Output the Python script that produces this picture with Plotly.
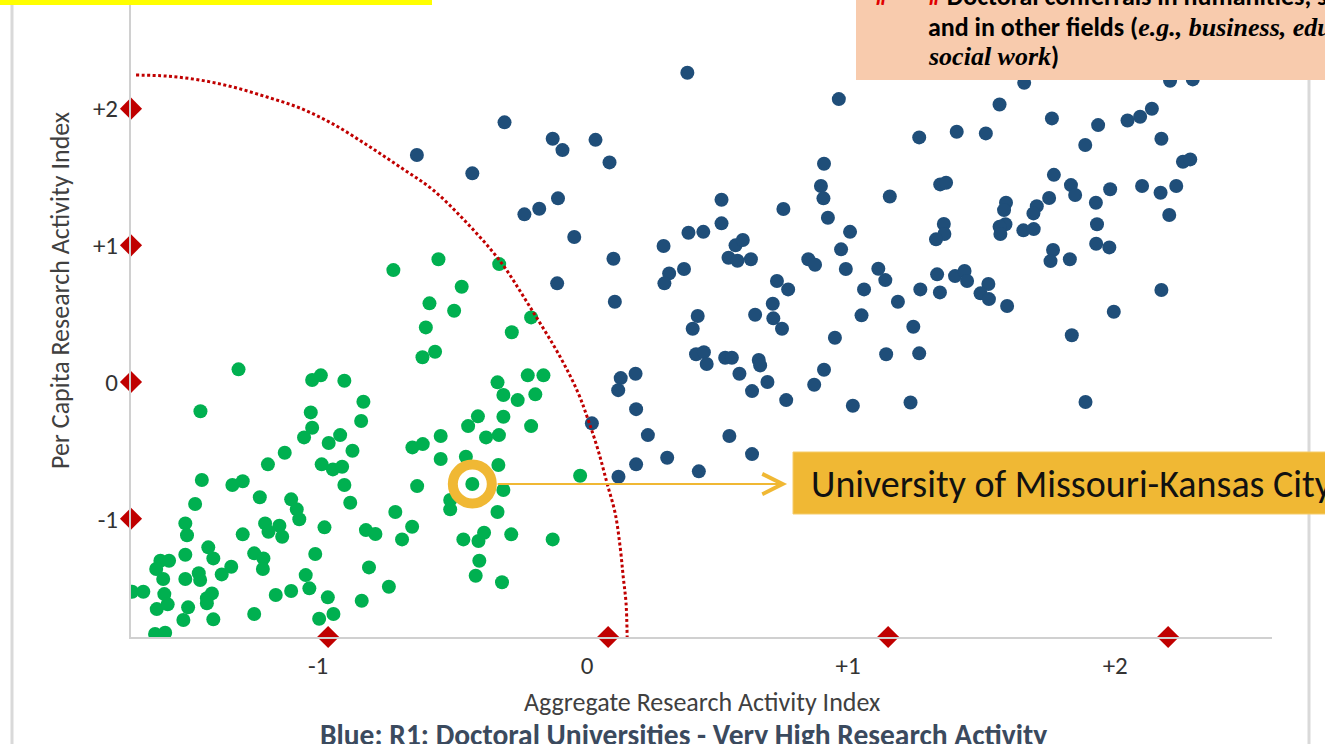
import plotly.graph_objects as go

# ---------------- data ----------------
green_x = [-0.767, -0.606, -0.389, -0.523, -0.638, -0.550, -0.275, -0.651, -0.344, -0.618,
           -0.663, -1.320, -1.057, -1.026, -0.942, -0.395, -0.287, -0.231, -0.374, -0.323,
           -0.260, -0.874, -1.456, -1.062, -0.882, -1.057, -1.086, -0.465, -0.374, -0.275,
           -0.500, -0.598, -0.436, -0.390, -0.957, -0.998, -0.913, -1.155, -0.699, -0.662,
           -0.598, -0.508, -0.392, -1.215, -1.023, -0.983, -0.950, -1.451, -1.342, -1.305,
           -0.942, -0.682, -0.485, -0.374, -0.100, -1.475, -1.244, -1.132, -1.112, -1.103,
           -0.921, -0.564, -0.564, -0.760, -0.395, -1.510, -1.504, -1.225, -1.174, -1.213,
           -1.164, -1.305, -1.013, -0.865, -0.831, -0.700, -0.736, -0.517, -0.463, -0.443,
           -0.346, -0.198, -1.510, -1.428, -1.410, -1.264, -1.231, -1.233, -1.046, -1.599,
           -1.568, -1.614, -1.589, -1.510, -1.462, -1.457, -1.380, -1.346, -1.080, -1.067,
           -0.854, -0.783, -0.460, -0.473, -0.379, -1.700, -1.660, -1.585, -1.612, -1.573,
           -1.500, -1.517, -1.433, -1.415, -1.433, -1.410, -1.187, -1.132, -1.264, -1.001,
           -0.981, -1.032, -0.880, -1.618, -1.582, -1.254]
green_y = [0.819, 0.898, 0.863, 0.697, 0.576, 0.522, 0.473, 0.400, 0.364, 0.222,
           0.181, 0.093, 0.015, 0.049, 0.010, -0.002, 0.049, 0.049, -0.095, -0.132,
           -0.090, -0.144, -0.214, -0.222, -0.285, -0.334, -0.405, -0.251, -0.254, -0.322,
           -0.322, -0.395, -0.405, -0.388, -0.388, -0.446, -0.503, -0.517, -0.478, -0.454,
           -0.563, -0.546, -0.607, -0.602, -0.602, -0.639, -0.620, -0.717, -0.753, -0.726,
           -0.753, -0.761, -0.746, -0.790, -0.685, -0.892, -0.843, -0.858, -0.931, -1.004,
           -0.883, -0.863, -0.931, -0.951, -0.951, -1.034, -1.121, -1.034, -1.051, -1.095,
           -1.132, -1.114, -1.063, -1.083, -1.112, -1.059, -1.151, -1.151, -1.163, -1.102,
           -1.114, -1.151, -1.263, -1.209, -1.290, -1.253, -1.290, -1.368, -1.258, -1.307,
           -1.307, -1.368, -1.441, -1.441, -1.399, -1.448, -1.407, -1.351, -1.412, -1.509,
           -1.356, -1.497, -1.307, -1.417, -1.465, -1.534, -1.534, -1.551, -1.661, -1.626,
           -1.648, -1.741, -1.582, -1.546, -1.619, -1.736, -1.558, -1.529, -1.697, -1.575,
           -1.697, -1.732, -1.600, -1.843, -1.834, -1.878]

blue_x = [0.283, 0.824, -0.370, -0.198, -0.163, -0.045, 0.005, 1.111, 0.771, 0.760,
          0.769, 1.006, -0.179, -0.246, -0.299, -0.121, 0.405, 0.405, 0.626, 0.287,
          0.340, 0.198, 0.455, 0.481, 0.785, 0.864, 0.832, 0.430, 0.462, 0.510,
          0.019, 0.715, 0.739, 0.849, 0.965, 0.990, 0.271, 0.218, 0.201, -0.182,
          0.914, 1.115, 0.603, 0.643, 0.024, 0.588, 1.035, 0.320, 0.302, 0.525,
          0.590, 0.621, 0.905, 1.090, 0.810, 0.314, 0.342, 0.352, 0.418, 0.442,
          0.538, 0.543, 0.469, 0.569, 0.514, 0.636, 0.993, 1.111, 0.771, 0.736,
          0.874, 1.080, 0.045, 0.098, 0.036, 0.100, -0.058, 0.142, 0.433, 0.211,
          0.514, 0.100, 0.324, 0.037, -0.683, -0.485,
          1.486, 2.007, 2.088, 1.398, 1.585, 1.245, 1.349, 1.750, 1.855, 1.900,
          1.942, 1.704, 1.976, 2.053, 2.079, 1.186, 1.207, 1.592, 1.653, 1.668,
          1.575, 1.742, 1.793, 1.907, 1.973, 2.029, 2.004, 1.421, 1.414, 1.531,
          1.519, 1.199, 1.201, 1.171, 1.419, 1.398, 1.401, 1.483, 1.520, 1.746,
          1.743, 1.790, 1.589, 1.580, 1.649, 1.175, 1.239, 1.273, 1.282, 1.358,
          1.330, 1.360, 1.185, 1.425, 1.656, 1.806, 1.976, 1.705]
blue_y = [2.263, 2.070, 1.900, 1.780, 1.697, 1.772, 1.607, 1.790, 1.597, 1.434,
          1.344, 1.358, 1.344, 1.268, 1.227, 1.061, 1.334, 1.161, 1.266, 1.092,
          1.099, 0.995, 1.000, 1.039, 1.202, 1.099, 0.971, 0.909, 0.887, 0.898,
          0.902, 0.898, 0.858, 0.827, 0.829, 0.746, 0.827, 0.795, 0.722, 0.722,
          0.678, 0.678, 0.739, 0.678, 0.587, 0.573, 0.587, 0.483, 0.390, 0.492,
          0.466, 0.390, 0.488, 0.405, 0.324, 0.203, 0.219, 0.132, 0.178, 0.178,
          0.161, 0.122, 0.061, 0.000, -0.066, -0.132, 0.203, 0.210, 0.090, -0.020,
          -0.173, -0.149, 0.029, 0.061, -0.059, -0.198, -0.302, -0.388, -0.395, -0.554,
          -0.527, -0.602, -0.653, -0.693, 1.661, 1.527,
          2.189, 2.204, 2.214, 2.031, 1.929, 1.831, 1.819, 1.880, 1.914, 1.941,
          1.999, 1.734, 1.780, 1.612, 1.629, 1.446, 1.458, 1.516, 1.441, 1.368,
          1.346, 1.312, 1.410, 1.434, 1.385, 1.434, 1.222, 1.312, 1.258, 1.287,
          1.234, 1.156, 1.083, 1.044, 1.154, 1.136, 1.083, 1.110, 1.119, 1.154,
          1.012, 0.985, 0.966, 0.885, 0.898, 0.788, 0.775, 0.812, 0.739, 0.717,
          0.649, 0.607, 0.656, 0.556, 0.342, 0.514, 0.673, -0.146]

boundary_x = [-1.686, -1.575, -1.457, -1.339, -1.218, -1.100, -0.982, -0.861, -0.743, -0.625,
              -0.504, -0.386, -0.279, -0.171, -0.107, -0.071, -0.036, -0.004, 0.025, 0.043,
              0.054, 0.064, 0.068]
boundary_y = [2.246, 2.238, 2.209, 2.158, 2.085, 2.004, 1.887, 1.734, 1.573, 1.405,
              1.163, 0.885, 0.549, 0.183, -0.080, -0.278, -0.497, -0.739, -0.958, -1.207,
              -1.426, -1.617, -1.873]

umkc_x, umkc_y = -0.485, -0.746
umkc_label = "University of Missouri-Kansas City"
axis_marks = [-1, 0, 1, 2]
x_tick_vals = [-1.036, -0.075, 0.857, 1.811]
x_tick_text = ["-1", "0", "+1", "+2"]
y_tick_vals = [-1, 0, 1, 2]
y_tick_text = ["-1", "0", "+1", "+2"]
x_range = [-1.704, 2.371]
y_range = [-1.865, 2.795]

# ---------------- style ----------------
FONT = "Carlito, Calibri, Lato, sans-serif"
SERIF = "'Liberation Serif', 'DejaVu Serif', serif"
GREEN = "#00b050"
BLUE = "#1f4e79"
RED = "#c00000"
GOLD = "#f0b834"
AXIS_GRAY = "#d0d0d0"

fig = go.Figure()
fig.add_trace(go.Scatter(x=green_x, y=green_y, mode="markers",
                         marker=dict(size=14, color=GREEN), hoverinfo="skip"))
fig.add_trace(go.Scatter(x=blue_x, y=blue_y, mode="markers",
                         marker=dict(size=14, color=BLUE), hoverinfo="skip"))
fig.add_trace(go.Scatter(x=boundary_x, y=boundary_y, mode="lines",
                         line=dict(color=RED, width=3, dash="3px,2.5px", shape="spline"),
                         hoverinfo="skip"))
fig.add_trace(go.Scatter(x=[x_range[0]] * len(axis_marks) + axis_marks,
                         y=axis_marks + [y_range[0]] * len(axis_marks),
                         mode="markers", cliponaxis=False,
                         marker=dict(symbol="diamond", size=17, color=RED), hoverinfo="skip"))
fig.add_trace(go.Scatter(x=[umkc_x], y=[umkc_y], mode="markers",
                         marker=dict(symbol="circle-open", size=39, color=GOLD,
                                     line=dict(color=GOLD, width=10)),
                         hoverinfo="skip"))


def px_x(p):
    return (p - 131) / 1141.0


def px_y(p):
    return (637 - p) / 637.0


shapes = [
    # slide borders
    dict(type="line", xref="paper", yref="paper", x0=px_x(12), x1=px_x(12), y0=-0.2, y1=1.05,
         line=dict(color="#d9d9d9", width=3), layer="below"),
    dict(type="line", xref="paper", yref="paper", x0=px_x(1309), x1=px_x(1309), y0=-0.2, y1=1.05,
         line=dict(color="#d9d9d9", width=3), layer="below"),
    # yellow box at top left
    dict(type="rect", xref="paper", yref="paper", x0=-0.2, x1=px_x(432), y0=px_y(5), y1=1.05,
         fillcolor="#ffff00", line=dict(width=0)),
    # peach box at top right
    dict(type="rect", xref="paper", yref="paper", x0=px_x(856), x1=1.1, y0=px_y(80), y1=1.05,
         fillcolor="#f8cbad", line=dict(width=0)),
    # callout box
    dict(type="rect", xref="paper", yref="paper", x0=px_x(793), x1=1.1, y0=px_y(514), y1=px_y(452),
         fillcolor=GOLD, line=dict(color="#f5cc6a", width=1)),
]


def note(text, x, y, size, color, xanchor="center", **kw):
    d = dict(text=text, xref="paper", yref="paper", x=px_x(x), y=px_y(y),
             xanchor=xanchor, yanchor="middle", showarrow=False,
             font=dict(family=FONT, size=size, color=color))
    d.update(kw)
    return d


annotations = [
    note("Per Capita Research Activity Index", 60, 291, 26, "#404040", textangle=-90),
    note("Aggregate Research Activity Index", 702, 702, 26, "#404040"),
    note("<b>Blue: R1: Doctoral Universities - Very High Research Activity</b>", 683, 735, 29.5, "#3b4a5e"),
    note(umkc_label, 809, 484, 38, "#111111", xanchor="left"),
    # peach box text
    note("<b>#</b>", 873, -4, 26, "#e00000", xanchor="left"),
    note("<b><span style='color:#e00000'>#</span> Doctoral conferrals in humanities, social sciences,</b>",
         926, -4, 26, "#000000", xanchor="left"),
    note("<b>and in other fields (</b><span style=\"font-family:" + SERIF + ";font-size:26px\">"
         "<b><i>e.g., business, education,</i></b></span>", 926, 27, 26, "#000000", xanchor="left"),
    note("<span style=\"font-family:" + SERIF + ";font-size:26px\"><b><i>social work</i></b></span><b>)</b>",
         926, 56, 26, "#000000", xanchor="left"),
    # arrow from ring to the label
    dict(x=0.639, y=umkc_y, ax=umkc_x + 0.085, ay=umkc_y, xref="x", yref="y", axref="x", ayref="y",
         text="", showarrow=True, arrowhead=5, arrowsize=2, arrowwidth=2, arrowcolor=GOLD),
]

fig.update_layout(
    width=1325, height=744,
    margin=dict(l=131, r=53, t=0, b=107),
    paper_bgcolor="white", plot_bgcolor="white",
    showlegend=False,
    shapes=shapes, annotations=annotations,
    xaxis=dict(range=x_range, showgrid=False, zeroline=False, showline=True,
               linecolor=AXIS_GRAY, linewidth=2, tickvals=x_tick_vals, ticktext=x_tick_text,
               ticks="outside", ticklen=5, tickcolor="rgba(0,0,0,0)",
               tickfont=dict(family=FONT, size=25, color="#333333")),
    yaxis=dict(range=y_range, showgrid=False, zeroline=False, showline=True,
               linecolor=AXIS_GRAY, linewidth=2, tickvals=y_tick_vals, ticktext=y_tick_text,
               ticks="outside", ticklen=6, tickcolor="rgba(0,0,0,0)",
               tickfont=dict(family=FONT, size=25, color="#333333")),
)

fig.write_html("out.html", config={"displayModeBar": False},
               post_script="document.body.style.margin='0';document.body.style.overflow='hidden';")
